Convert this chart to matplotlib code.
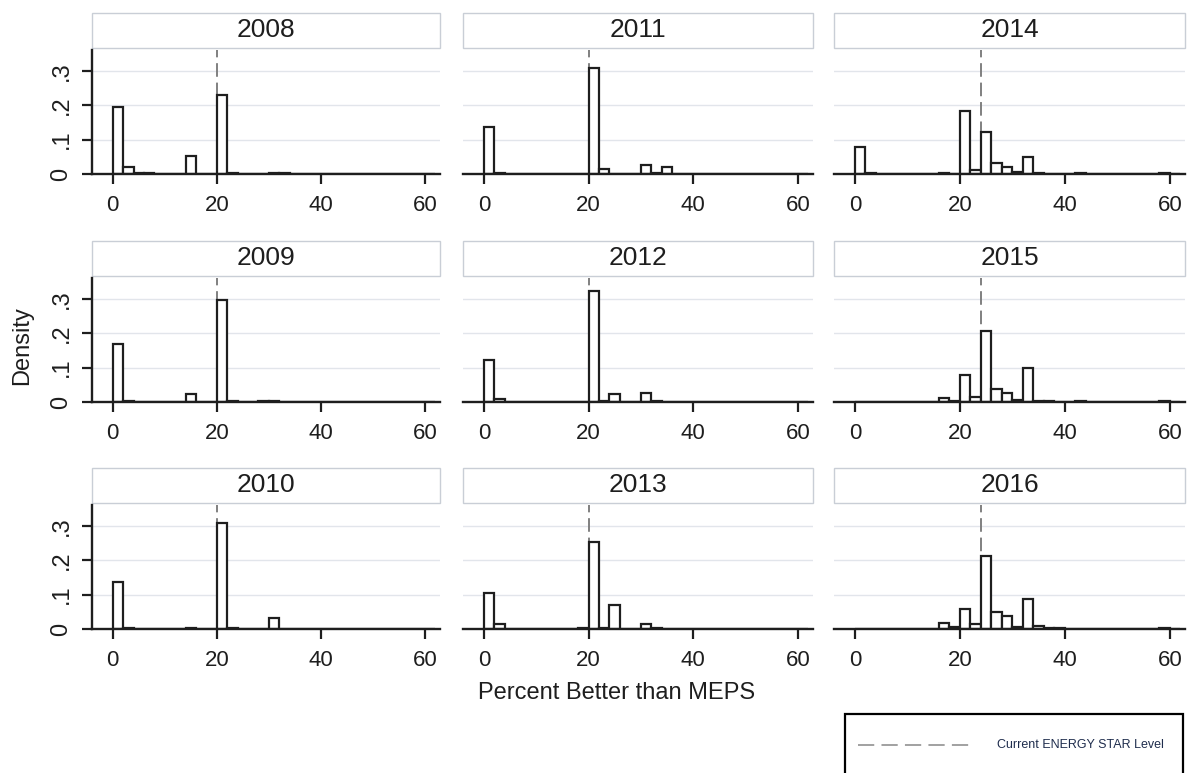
import numpy as np
import matplotlib
matplotlib.use("Agg")
import matplotlib.pyplot as plt
from matplotlib.patches import Rectangle
from matplotlib.lines import Line2D

plt.rcParams['font.family'] = ['Liberation Sans', 'DejaVu Sans']

# ---------------- data ----------------
years = [2008, 2009, 2010, 2011, 2012, 2013, 2014, 2015, 2016]
bin_width = 2
bin_left = np.arange(0, 62, 2)          # 31 bins: 0-2, 2-4, ..., 60-62
energy_star_level = [20, 20, 20, 20, 20, 20, 24, 24, 24]

#               0-2    2-4    4-6    6-8    8-10   10-12  12-14  14-16  16-18  18-20  20-22  22-24  24-26  26-28  28-30  30-32  32-34  34-36  36-38  38-40  40-42  42-44  44-46  46-48  48-50  50-52  52-54  54-56  56-58  58-60  60-62
d2008 = [0.194, 0.021, 0.002, 0.002, 0.000, 0.000, 0.000, 0.052, 0.000, 0.000, 0.230, 0.002, 0.000, 0.000, 0.000, 0.003, 0.002, 0.000, 0.000, 0.000, 0.000, 0.000, 0.000, 0.000, 0.000, 0.000, 0.000, 0.000, 0.000, 0.000, 0.000]
d2009 = [0.169, 0.004, 0.001, 0.000, 0.000, 0.000, 0.000, 0.022, 0.000, 0.000, 0.297, 0.002, 0.000, 0.000, 0.002, 0.002, 0.000, 0.000, 0.000, 0.000, 0.000, 0.000, 0.000, 0.000, 0.000, 0.000, 0.000, 0.000, 0.000, 0.000, 0.000]
d2010 = [0.136, 0.002, 0.000, 0.000, 0.000, 0.000, 0.000, 0.002, 0.000, 0.000, 0.310, 0.002, 0.000, 0.000, 0.000, 0.031, 0.001, 0.000, 0.000, 0.000, 0.000, 0.000, 0.000, 0.000, 0.000, 0.000, 0.000, 0.000, 0.000, 0.000, 0.000]
d2011 = [0.136, 0.003, 0.000, 0.000, 0.000, 0.000, 0.000, 0.000, 0.000, 0.000, 0.309, 0.015, 0.000, 0.000, 0.000, 0.026, 0.002, 0.019, 0.000, 0.000, 0.000, 0.000, 0.000, 0.000, 0.000, 0.000, 0.000, 0.000, 0.000, 0.000, 0.000]
d2012 = [0.123, 0.010, 0.000, 0.000, 0.000, 0.000, 0.000, 0.000, 0.000, 0.000, 0.322, 0.003, 0.022, 0.000, 0.000, 0.025, 0.002, 0.000, 0.000, 0.000, 0.000, 0.000, 0.000, 0.000, 0.000, 0.000, 0.000, 0.000, 0.000, 0.000, 0.000]
d2013 = [0.106, 0.015, 0.000, 0.000, 0.000, 0.000, 0.000, 0.000, 0.000, 0.002, 0.252, 0.003, 0.069, 0.000, 0.000, 0.016, 0.002, 0.000, 0.000, 0.000, 0.000, 0.000, 0.000, 0.000, 0.000, 0.000, 0.000, 0.000, 0.000, 0.001, 0.000]
d2014 = [0.078, 0.003, 0.000, 0.000, 0.000, 0.000, 0.000, 0.000, 0.003, 0.000, 0.183, 0.012, 0.121, 0.031, 0.021, 0.007, 0.050, 0.003, 0.000, 0.000, 0.000, 0.002, 0.000, 0.000, 0.000, 0.000, 0.000, 0.000, 0.000, 0.002, 0.000]
d2015 = [0.001, 0.001, 0.001, 0.001, 0.001, 0.001, 0.001, 0.001, 0.012, 0.002, 0.080, 0.016, 0.208, 0.038, 0.025, 0.006, 0.099, 0.004, 0.003, 0.000, 0.000, 0.002, 0.000, 0.000, 0.000, 0.000, 0.000, 0.000, 0.000, 0.003, 0.000]
d2016 = [0.001, 0.001, 0.001, 0.001, 0.001, 0.001, 0.001, 0.001, 0.017, 0.006, 0.059, 0.014, 0.213, 0.049, 0.038, 0.006, 0.087, 0.010, 0.003, 0.002, 0.000, 0.000, 0.000, 0.000, 0.000, 0.000, 0.000, 0.000, 0.000, 0.003, 0.000]
densities = [d2008, d2009, d2010, d2011, d2012, d2013, d2014, d2015, d2016]

x_ticks = [0, 20, 40, 60]
y_ticks = [0, 0.1, 0.2, 0.3]
y_ticklabels = ['0', '.1', '.2', '.3']
x_label = 'Percent Better than MEPS'
y_label = 'Density'
legend_label = 'Current ENERGY STAR Level'

# ---------------- layout ----------------
W, H = 1192, 773
fig = plt.figure(figsize=(W / 100, H / 100), dpi=100)
fig.patch.set_facecolor('white')

col_left = [92, 463, 834]
col_right = [440, 813, 1185]
row_top = [50, 278, 505]
row_bottom = [174, 402, 629]

dark = '#1e1e1e'
grid_c = '#e2e5eb'
strip_c = '#c9ced6'
dash_c = '#808080'

for i, year in enumerate(years):
    c, r = i // 3, i % 3
    l, rr = col_left[c], col_right[c]
    t, b = row_top[r], row_bottom[r]
    ax = fig.add_axes([l / W, 1 - b / H, (rr - l) / W, (b - t) / H])
    ax.set_xlim(-4, 62.9)
    ax.set_ylim(0, 0.361)
    for yv in y_ticks[1:]:
        ax.axhline(yv, color=grid_c, lw=1.0, zorder=0)
    ax.axvline(energy_star_level[i], color=dash_c, lw=1.4,
               ls=(0, (7, 3)), zorder=1)
    ax.bar(bin_left, densities[i], width=bin_width, align='edge',
           facecolor='white', edgecolor=dark, linewidth=1.6, zorder=2)

    for s in ['top', 'right']:
        ax.spines[s].set_visible(False)
    ax.spines['bottom'].set_linewidth(1.7)
    ax.spines['bottom'].set_color(dark)
    ax.spines['bottom'].set_zorder(3)
    ax.set_xticks(x_ticks)
    ax.set_xticklabels([str(v) for v in x_ticks])
    ax.tick_params(axis='x', direction='out', length=7, width=1.6,
                   color=dark, labelsize=16, labelcolor=dark, pad=8)
    if c == 0:
        ax.spines['left'].set_linewidth(1.7)
        ax.spines['left'].set_color(dark)
        ax.set_yticks(y_ticks)
        ax.set_yticklabels(y_ticklabels, rotation=90, va='center')
        ax.tick_params(axis='y', direction='out', length=7, width=1.6,
                       color=dark, labelsize=17, labelcolor=dark, pad=7)
    else:
        ax.spines['left'].set_visible(False)
        ax.set_yticks([])

    # title strip
    h = b - t
    strip = Rectangle((0, 1 + 2 / h), 1, 35 / h, transform=ax.transAxes,
                      facecolor='white', edgecolor=strip_c, lw=1.0,
                      clip_on=False, zorder=0)
    ax.add_patch(strip)
    ax.text(0.5, 1 + 20 / h, str(year), transform=ax.transAxes,
            ha='center', va='center', fontsize=19, color=dark)

fig.text(617 / W, 1 - 693 / H, x_label, ha='center', va='center',
         fontsize=17, color=dark)
fig.text(22 / W, 1 - 346 / H, y_label, ha='center', va='center',
         rotation=90, fontsize=17, color=dark)

# legend box
fig.patches.append(Rectangle((845 / W, -0.02), (1183 - 845) / W,
                             (773 - 714) / H + 0.02,
                             transform=fig.transFigure, fill=False,
                             edgecolor='black', lw=1.6))
fig.lines.append(Line2D([858 / W, 975 / W], [1 - 745 / H, 1 - 745 / H],
                        transform=fig.transFigure, color='#9a9a9a',
                        lw=1.3, ls=(0, (9, 4))))
fig.text(997 / W, 1 - 745 / H, legend_label, ha='left', va='center',
         fontsize=9, color='#1f2d4d')

fig.savefig('out.png', dpi=100, facecolor='white')
